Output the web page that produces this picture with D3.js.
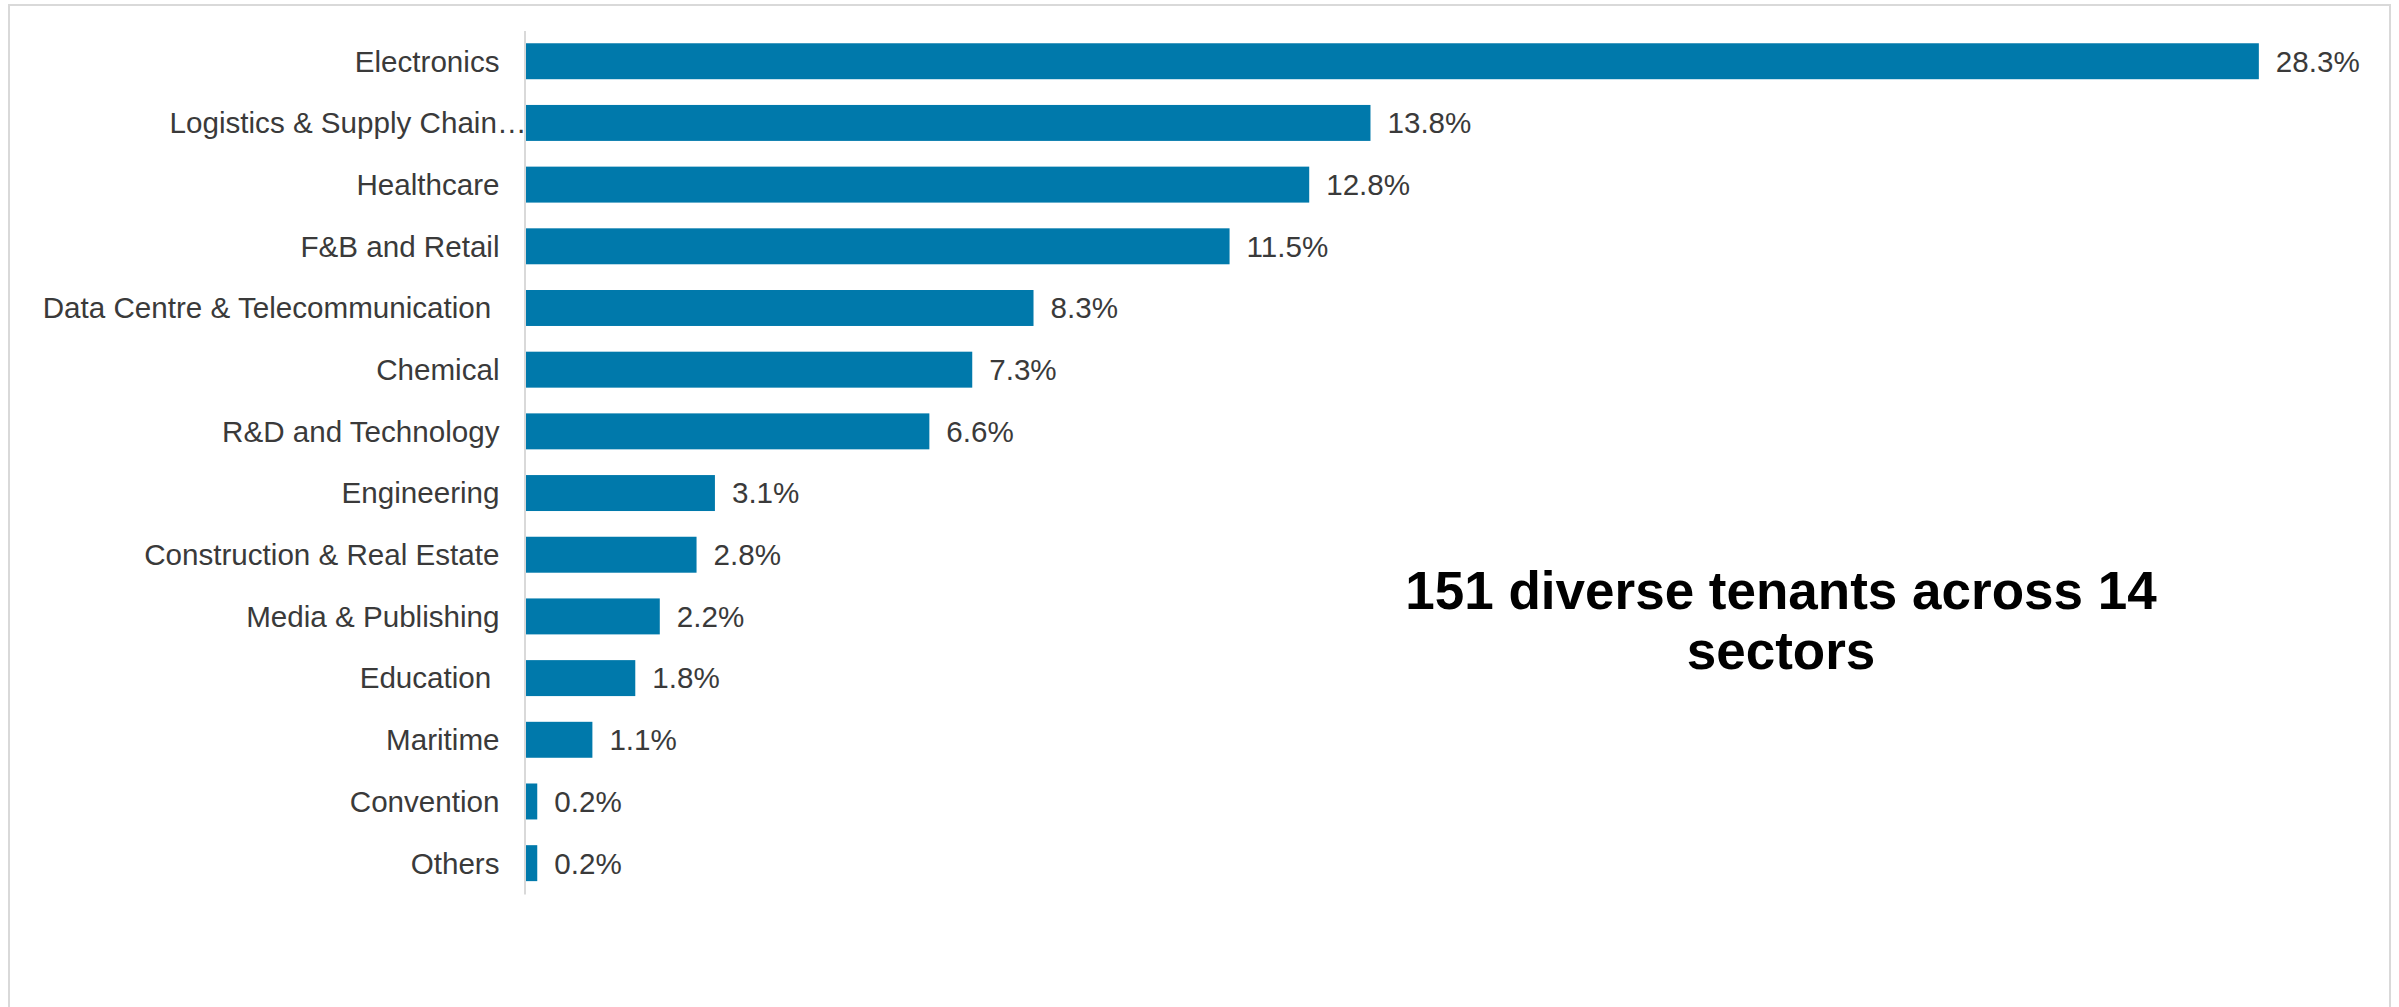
<!DOCTYPE html>
<html>
<head>
<meta charset="utf-8">
<script src="https://cdn.jsdelivr.net/npm/d3@7"></script>
<style>
  html, body { margin: 0; padding: 0; background: #fff; }
  svg { display: block; }
  .tick text { white-space: pre; }
</style>
</head>
<body>
<svg id="chart" width="2399" height="1007"></svg>
<script>
// Tenant mix by trade sector (% share)
const sectors = [
  "Electronics",
  "Logistics & Supply Chain\u2026",
  "Healthcare",
  "F&B and Retail",
  "Data Centre & Telecommunication ",
  "Chemical",
  "R&D and Technology",
  "Engineering",
  "Construction & Real Estate",
  "Media & Publishing",
  "Education ",
  "Maritime",
  "Convention",
  "Others"
];
const shares = [28.3, 13.8, 12.8, 11.5, 8.3, 7.3, 6.6, 3.1, 2.8, 2.2, 1.8, 1.1, 0.2, 0.2];
const shareLabels = ["28.3%", "13.8%", "12.8%", "11.5%", "8.3%", "7.3%", "6.6%", "3.1%", "2.8%", "2.2%", "1.8%", "1.1%", "0.2%", "0.2%"];
const headline = ["151 diverse tenants across 14", "sectors"];

const rows = sectors.map((s, i) => ({ sector: s, share: shares[i], label: shareLabels[i] }));

const svg = d3.select("#chart");
const FONT = "'Liberation Sans', Arial, sans-serif";
const TEXT = "#3a3a3a";
const BAR = "#0079ab";

// outer frame
svg.append("rect")
  .attr("x", 9).attr("y", 5)
  .attr("width", 2381).attr("height", 1010)
  .attr("fill", "none")
  .attr("stroke", "#d9d9d9")
  .attr("stroke-width", 2);

const x = d3.scaleLinear().domain([0, 30]).range([525, 2363]);
const y = d3.scaleBand()
  .domain(sectors)
  .range([30.4, 894])
  .paddingInner(0.417)
  .paddingOuter(0.2085);

// bars
svg.append("g").selectAll("rect")
  .data(rows)
  .join("rect")
  .attr("x", x(0))
  .attr("y", d => y(d.sector))
  .attr("width", d => x(d.share) - x(0))
  .attr("height", y.bandwidth())
  .attr("fill", BAR);

// category axis
const axis = svg.append("g")
  .attr("transform", `translate(${x(0) - 0.5},0)`)
  .call(d3.axisLeft(y).tickSize(0).tickPadding(25));
axis.select(".domain")
  .attr("stroke", "#d9d9d9")
  .attr("stroke-width", 2);
axis.selectAll(".tick text")
  .attr("font-family", FONT)
  .attr("font-size", 29.6)
  .attr("fill", TEXT)
  .attr("dy", "0.35em")
  // a truncated label runs up to the axis line
  .attr("x", d => d.endsWith("\u2026") ? 2 : -25);

// value labels
svg.append("g").selectAll("text")
  .data(rows)
  .join("text")
  .attr("x", d => x(d.share) + 17)
  .attr("y", d => y(d.sector) + y.bandwidth() / 2)
  .attr("dy", "0.35em")
  .attr("font-family", FONT)
  .attr("font-size", 29.6)
  .attr("fill", TEXT)
  .text(d => d.label);

// headline annotation
svg.append("text")
  .attr("x", 1781)
  .attr("y", 609)
  .attr("text-anchor", "middle")
  .attr("font-family", FONT)
  .attr("font-weight", "bold")
  .attr("font-size", 53)
  .attr("fill", "#000")
  .selectAll("tspan")
  .data(headline)
  .join("tspan")
  .attr("x", 1781)
  .attr("dy", (d, i) => i === 0 ? 0 : 60)
  .text(d => d);
</script>
</body>
</html>
